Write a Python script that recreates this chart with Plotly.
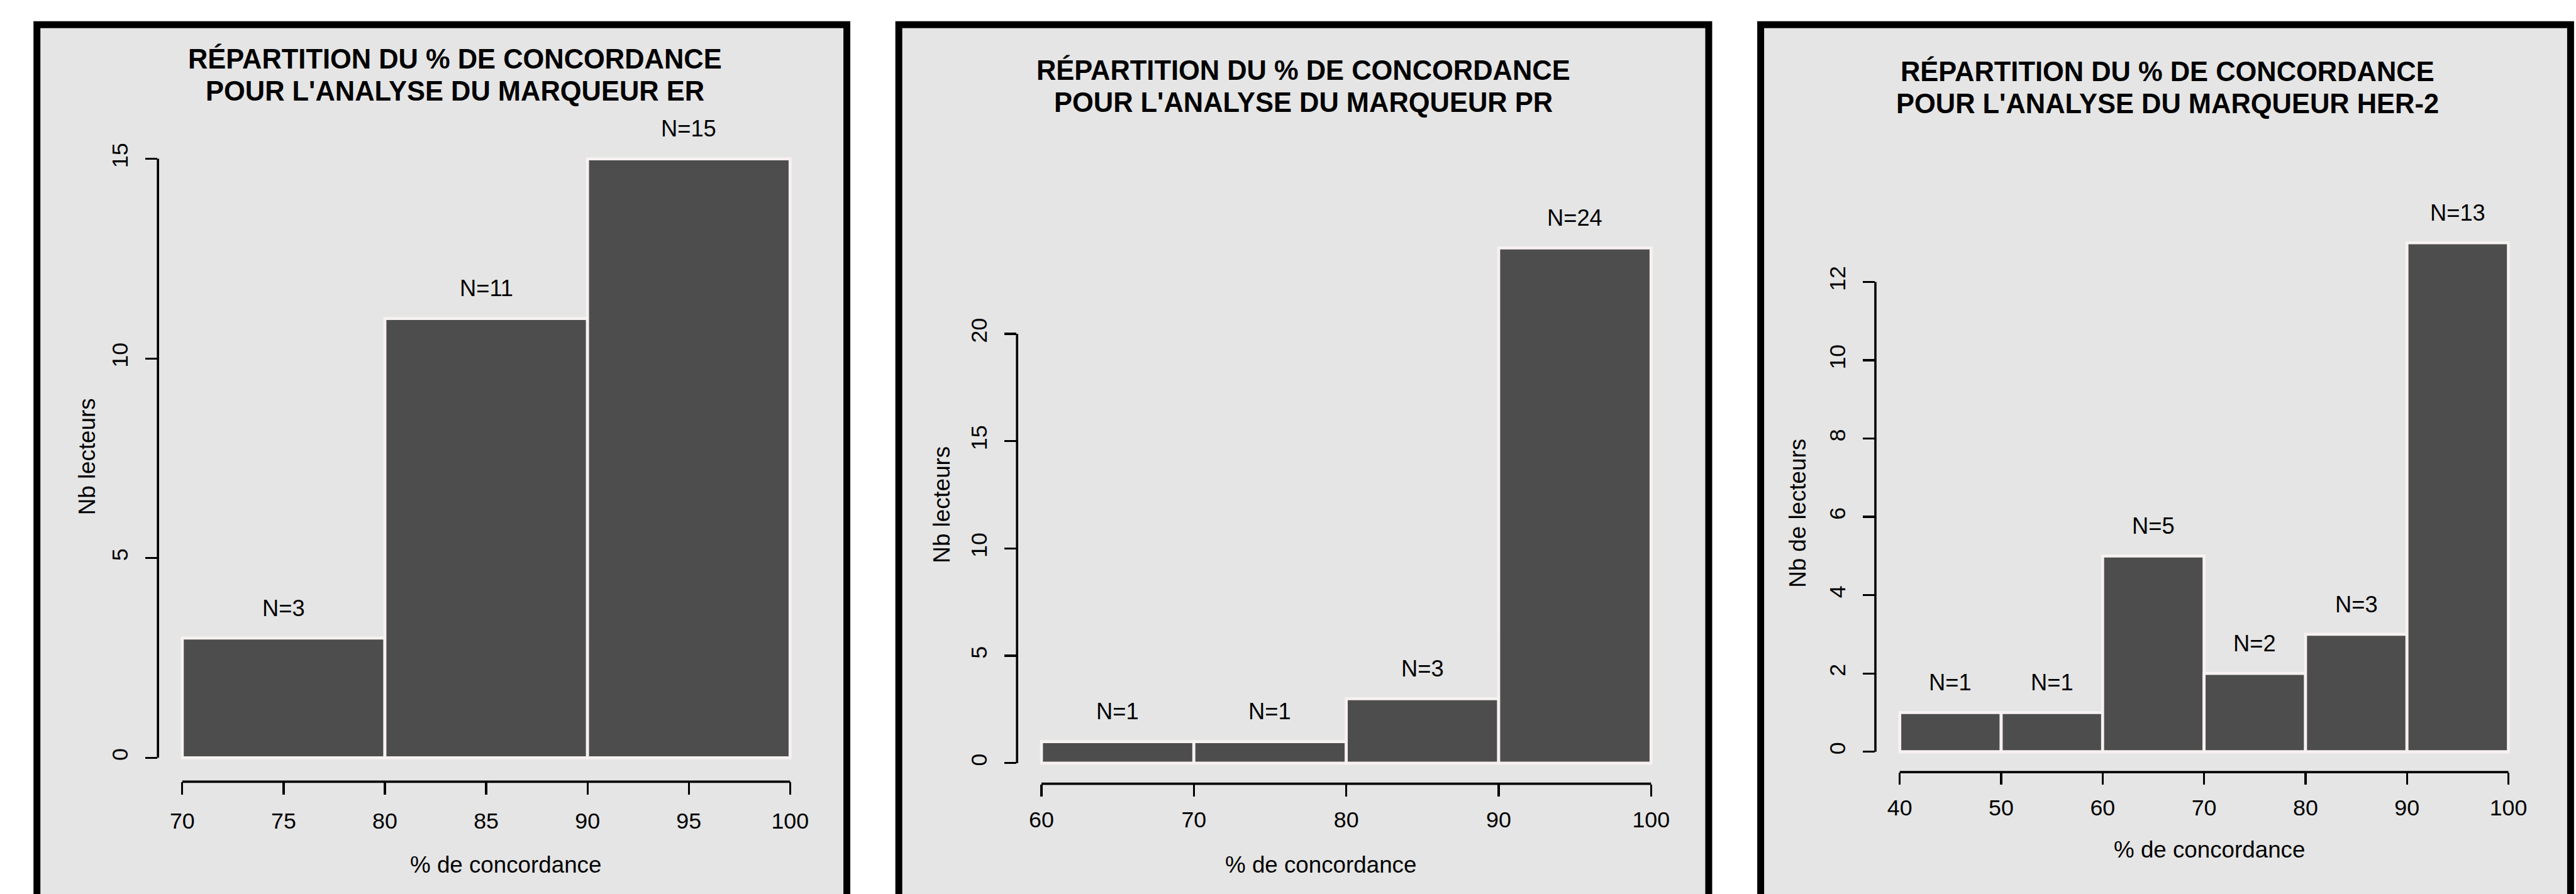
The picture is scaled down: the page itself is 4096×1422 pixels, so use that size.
import plotly.graph_objects as go

# ---------------- data ----------------
er_edges = [70, 80, 90, 100]
er_counts = [3, 11, 15]
er_xticks = [70, 75, 80, 85, 90, 95, 100]
er_yticks = [0, 5, 10, 15]

pr_edges = [60, 70, 80, 90, 100]
pr_counts = [1, 1, 3, 24]
pr_xticks = [60, 70, 80, 90, 100]
pr_yticks = [0, 5, 10, 15, 20]

her2_edges = [40, 50, 60, 70, 80, 90, 100]
her2_counts = [1, 1, 5, 2, 3, 13]
her2_xticks = [40, 50, 60, 70, 80, 90, 100]
her2_yticks = [0, 2, 4, 6, 8, 10, 12]

title_line1 = "RÉPARTITION DU % DE CONCORDANCE"
title_line2 = ["POUR L'ANALYSE DU MARQUEUR ER",
               "POUR L'ANALYSE DU MARQUEUR PR",
               "POUR L'ANALYSE DU MARQUEUR HER-2"]
y_titles = ["Nb lecteurs", "Nb lecteurs", "Nb de lecteurs"]
x_title = "% de concordance"
label_prefix = "N="

# ---------------- layout (reference pixel geometry) ----------------
REF_W, REF_H = 4289, 1489
S = 4096 / REF_W
W, H = 4096, 1422

def fx(v):
    return v / REF_W

def fy(v):
    return 1 - v / REF_H

FONT = "Liberation Sans, Arial, Helvetica, sans-serif"
BAR_FILL = "#4D4D4D"
BAR_EDGE = "#F7F1F1"
PANEL_BG = "#E5E5E5"

panels = [
    dict(edges=er_edges, counts=er_counts, xt=er_xticks, yt=er_yticks,
         frame=(61.5, 1410), region=(263, 1356, 224.6, 1302),
         t_x=758, t_y=(97.5, 151.5), xl=(842, 1440), yl=(145, 760)),
    dict(edges=pr_edges, counts=pr_counts, xt=pr_xticks, yt=pr_yticks,
         frame=(1496.5, 2845), region=(1693.4, 2789.6, 378.7, 1305.3),
         t_x=2170, t_y=(117, 171), xl=(2199, 1440), yl=(1568, 840)),
    dict(edges=her2_edges, counts=her2_counts, xt=her2_xticks, yt=her2_yticks,
         frame=(2931.5, 4280), region=(3122.5, 4217, 370.5, 1286),
         t_x=3609, t_y=(119, 173), xl=(3679, 1415), yl=(2993, 855)),
]
xtick_standoff = [12, 6, 6]

fig = go.Figure()
shapes = []
annotations = []
layout_axes = {}

for i, p in enumerate(panels):
    n = i + 1
    sfx = "" if n == 1 else str(n)
    edges, counts = p["edges"], p["counts"]
    centers = [(a + b) / 2 for a, b in zip(edges[:-1], edges[1:])]
    widths = [b - a for a, b in zip(edges[:-1], edges[1:])]

    # panel frame
    fl, fr = p["frame"]
    shapes.append(dict(type="rect", xref="paper", yref="paper",
                       x0=fx(fl), x1=fx(fr), y0=-0.2, y1=fy(41),
                       fillcolor=PANEL_BG, line=dict(color="black", width=11.5 * S),
                       layer="below"))

    fig.add_trace(go.Bar(
        x=centers, y=counts, width=widths,
        marker=dict(color=BAR_FILL, line=dict(color=BAR_EDGE, width=5 * S)),
        xaxis="x" + sfx, yaxis="y" + sfx, showlegend=False, hoverinfo="skip"))

    lo, hi = edges[0], edges[-1]
    padx = 0.04 * (hi - lo)
    ymax = max(counts)
    pady = 0.04 * ymax
    rl, rr, rt, rb = p["region"]

    layout_axes["xaxis" + sfx] = dict(
        domain=[fx(rl), fx(rr)], range=[lo - padx, hi + padx], anchor="y" + sfx,
        showline=False, showgrid=False, zeroline=False,
        ticks="outside", ticklen=20 * S, tickwidth=3.4 * S, tickcolor="black",
        tickvals=p["xt"], ticktext=[str(v) for v in p["xt"]],
        tickfont=dict(family=FONT, size=37.5 * S, color="black"),
        ticklabelstandoff=xtick_standoff[i], fixedrange=True)
    layout_axes["yaxis" + sfx] = dict(
        domain=[fy(rb), fy(rt)], range=[-pady, ymax + pady], anchor="x" + sfx,
        showline=False, showgrid=False, zeroline=False,
        ticks="outside", ticklen=20 * S, tickwidth=3.4 * S, tickcolor="black",
        tickvals=p["yt"], ticktext=[str(v) for v in p["yt"]], tickangle=-90,
        tickfont=dict(family=FONT, size=37.5 * S, color="black"),
        ticklabelstandoff=14, fixedrange=True)

    # R-style axis lines spanning first to last tick
    shapes.append(dict(type="line", xref="x" + sfx, yref="paper",
                       x0=p["xt"][0], x1=p["xt"][-1], y0=fy(rb), y1=fy(rb),
                       line=dict(color="black", width=3.8 * S)))
    shapes.append(dict(type="line", xref="paper", yref="y" + sfx,
                       x0=fx(rl), x1=fx(rl), y0=p["yt"][0], y1=p["yt"][-1],
                       line=dict(color="black", width=3.8 * S)))

    # bar count labels
    for c, v in zip(centers, counts):
        annotations.append(dict(x=c, y=v, xref="x" + sfx, yref="y" + sfx,
                                text=f"{label_prefix}{v}", showarrow=False,
                                yanchor="middle", xanchor="center", yshift=50 * S,
                                font=dict(family=FONT, size=38 * S, color="black")))

    # titles
    for line_text, ty in zip([title_line1, title_line2[i]], p["t_y"]):
        annotations.append(dict(x=fx(p["t_x"]), y=fy(ty), xref="paper", yref="paper",
                                text=line_text, showarrow=False,
                                xanchor="center", yanchor="middle",
                                font=dict(family=FONT, size=45.5 * S, color="black",
                                          weight="bold")))
    # axis titles
    annotations.append(dict(x=fx(p["xl"][0]), y=fy(p["xl"][1]), xref="paper", yref="paper",
                            text=x_title, showarrow=False, xanchor="center", yanchor="middle",
                            font=dict(family=FONT, size=38.5 * S, color="black")))
    annotations.append(dict(x=fx(p["yl"][0]), y=fy(p["yl"][1]), xref="paper", yref="paper",
                            text=y_titles[i], showarrow=False, textangle=-90,
                            xanchor="center", yanchor="middle",
                            font=dict(family=FONT, size=38.5 * S, color="black")))

fig.update_layout(
    width=W, height=H,
    margin=dict(l=0, r=0, t=0, b=0),
    paper_bgcolor="white", plot_bgcolor="rgba(0,0,0,0)",
    bargap=0, showlegend=False,
    shapes=shapes, annotations=annotations,
    **layout_axes,
)

fig.write_html("out.html",
               config={"displayModeBar": False, "staticPlot": True},
               post_script="document.body.style.margin='0px';"
                           "document.body.style.overflow='hidden';")
